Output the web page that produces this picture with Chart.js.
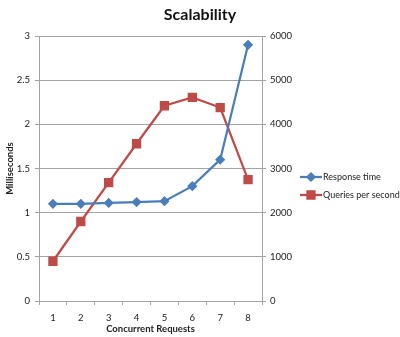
<!DOCTYPE html>
<html>
<head>
<meta charset="utf-8">
<script src="https://cdn.jsdelivr.net/npm/chart.js@4"></script>
<style>
  html, body { margin: 0; padding: 0; background: #fff; }
  #wrap { width: 400px; height: 337px; }
</style>
</head>
<body>
<div id="wrap"><canvas id="scaleChart" width="400" height="337"></canvas></div>
<script>
const requests = ['1', '2', '3', '4', '5', '6', '7', '8'];
const responseTime = [1.1, 1.1, 1.11, 1.12, 1.13, 1.3, 1.6, 2.9];
const queriesPerSecond = [900, 1800, 2680, 3560, 4420, 4610, 4380, 2750];
const msTicks = [0, 0.5, 1, 1.5, 2, 2.5, 3];
const qpsTicks = [0, 1000, 2000, 3000, 4000, 5000, 6000];

const FONT = 'Lato, "Open Sans", sans-serif';
const GRID = '#a3a3a3';
const BLUE = '#4a7ebb';
const RED = '#be4b48';

// plain numbers on the value axes (no "3.0", no "6,000")
const plain = v => String(v);

// legend beside the plot: short line with the marker in the middle
const sideLegend = {
    id: 'sideLegend',
    afterDraw(chart) {
        const ctx = chart.ctx;
        const rows = [177, 195];
        ctx.save();
        chart.data.datasets.forEach((ds, i) => {
            const y = rows[i];
            ctx.strokeStyle = ds.borderColor;
            ctx.lineWidth = 2.25;
            ctx.beginPath();
            ctx.moveTo(300, y);
            ctx.lineTo(322, y);
            ctx.stroke();
            ctx.fillStyle = ds.pointBackgroundColor;
            ctx.strokeStyle = ds.pointBorderColor;
            Chart.helpers.drawPoint(ctx, {
                pointStyle: ds.pointStyle,
                radius: ds.pointRadius,
                rotation: 0,
                borderWidth: 1
            }, 311, y);
            ctx.fillStyle = '#222';
            ctx.font = '9px ' + FONT;
            ctx.textBaseline = 'middle';
            ctx.textAlign = 'left';
            ctx.fillText(ds.label, 323, y);
        });
        ctx.restore();
    }
};

new Chart(document.getElementById('scaleChart'), {
    type: 'line',
    data: {
        labels: requests,
        datasets: [{
            label: 'Response time',
            data: responseTime,
            yAxisID: 'yMs',
            borderColor: BLUE,
            backgroundColor: BLUE,
            pointBackgroundColor: BLUE,
            pointBorderColor: BLUE,
            borderWidth: 2.25,
            pointStyle: 'rectRot',
            pointRadius: 3.5,
            tension: 0
        }, {
            label: 'Queries per second',
            data: queriesPerSecond,
            yAxisID: 'yQps',
            borderColor: RED,
            backgroundColor: RED,
            pointBackgroundColor: RED,
            pointBorderColor: RED,
            borderWidth: 2.25,
            pointStyle: 'rect',
            pointRadius: 5,
            tension: 0
        }]
    },
    options: {
        responsive: false,
        animation: false,
        layout: { padding: 0 },
        plugins: {
            legend: { display: false },
            tooltip: { enabled: false },
            title: {
                display: true,
                text: 'Scalability',
                color: '#111',
                font: { family: FONT, size: 16, weight: 'bold', lineHeight: 1.2 },
                padding: { top: 5, bottom: 11.8 }
            }
        },
        scales: {
            x: {
                offset: true,
                afterFit(s) { s.height = 36; },
                grid: {
                    offset: true,
                    drawOnChartArea: false,
                    tickLength: 4,
                    color: GRID
                },
                border: { color: GRID, width: 1 },
                ticks: { color: '#222', font: { family: FONT, size: 9.5 }, padding: 7 },
                title: {
                    display: true,
                    text: 'Concurrent Requests',
                    color: '#222',
                    font: { family: FONT, size: 9.5, weight: 'bold' },
                    padding: { top: 2, bottom: 2 }
                }
            },
            yMs: {
                position: 'left',
                min: 0,
                max: 3,
                afterFit(s) { s.width = 39; },
                afterBuildTicks(s) { s.ticks = msTicks.map(v => ({ value: v })); },
                grid: { color: GRID, tickLength: 4, lineWidth: 1 },
                border: { color: GRID, width: 1 },
                ticks: { color: '#222', font: { family: FONT, size: 9.5 }, padding: 5, callback: plain },
                title: {
                    display: true,
                    text: 'Milliseconds',
                    color: '#222',
                    font: { family: FONT, size: 9.5, weight: 'bold' },
                    padding: { top: 4, bottom: 2 }
                }
            },
            yQps: {
                position: 'right',
                min: 0,
                max: 6000,
                afterFit(s) { s.width = 138; },
                afterBuildTicks(s) { s.ticks = qpsTicks.map(v => ({ value: v })); },
                grid: { drawOnChartArea: false, color: GRID, tickLength: 4 },
                border: { color: GRID, width: 1 },
                ticks: { color: '#222', font: { family: FONT, size: 9.5 }, padding: 4, callback: plain }
            }
        }
    },
    plugins: [sideLegend]
});
</script>
</body>
</html>
